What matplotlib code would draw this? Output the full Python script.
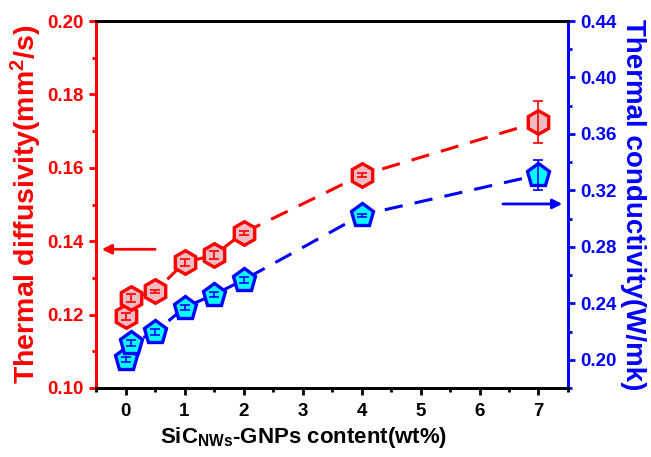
import matplotlib
matplotlib.use("Agg")
import matplotlib.pyplot as plt
import numpy as np

plt.rcParams["font.family"] = "Liberation Sans"
plt.rcParams["font.weight"] = "bold"
plt.rcParams["mathtext.fontset"] = "custom"
plt.rcParams["mathtext.rm"] = "Liberation Sans:bold"
plt.rcParams["mathtext.it"] = "Liberation Sans:bold"
plt.rcParams["mathtext.bf"] = "Liberation Sans:bold"

# filler content (wt%)
content = [0, 0.1, 0.5, 1, 1.5, 2, 4, 7]
# thermal diffusivity (mm2/s) and its error
diffusivity = [0.1195, 0.1245, 0.1263, 0.1342, 0.1362, 0.1423, 0.1580, 0.1725]
diffusivity_err = [0.001, 0.001, 0.0005, 0.001, 0.001, 0.0005, 0.0005, 0.0058]
# thermal conductivity (W/mk) and its error
conductivity = [0.2003, 0.2120, 0.2195, 0.2370, 0.2462, 0.2565, 0.3025, 0.3310]
conductivity_err = [0.002, 0.002, 0.002, 0.002, 0.002, 0.002, 0.001, 0.0105]

red = "#ff0000"
blue = "#0000ff"

fig = plt.figure(figsize=(6.51, 4.57), dpi=100)
ax = fig.add_axes([0.1475, 0.151, 0.725, 0.803])
ax2 = ax.twinx()

# diffusivity on the left axis
ax.plot(content, diffusivity, color=red, lw=2.2, dashes=(6, 4), zorder=1)
ax.plot(content, diffusivity, ls="none", marker="h", ms=17, mfc="#f0bcc4",
        mec=red, mew=2.4, zorder=2)
ax.errorbar(content, diffusivity, yerr=diffusivity_err, fmt="none", ecolor=red,
            elinewidth=1.2, capsize=3.5, capthick=1.2, zorder=3)

# conductivity on the right axis
ax2.plot(content, conductivity, color=blue, lw=2.2, dashes=(6, 4), zorder=1)
ax2.plot(content, conductivity, ls="none", marker="p", ms=17, mfc="#00ffff",
         mec=blue, mew=2.4, zorder=2)
ax2.errorbar(content, conductivity, yerr=conductivity_err, fmt="none", ecolor=blue,
             elinewidth=1.2, capsize=3.5, capthick=1.2, zorder=3)

ax.set_xlim(-0.5, 7.5)
ax.set_ylim(0.10, 0.20)
ax2.set_ylim(0.18, 0.44)
ax.set_xticks(range(8))
ax.set_xticks(np.arange(-0.5, 7.6, 0.5), minor=True)
ax.set_yticks(np.arange(0.10, 0.201, 0.02))
ax.set_yticks(np.arange(0.10, 0.201, 0.01), minor=True)
ax2.set_yticks(np.arange(0.20, 0.441, 0.04))
ax2.set_yticks(np.arange(0.18, 0.441, 0.02), minor=True)
ax.yaxis.set_major_formatter(plt.FormatStrFormatter("%.2f"))
ax2.yaxis.set_major_formatter(plt.FormatStrFormatter("%.2f"))

for a in (ax, ax2):
    for s in a.spines.values():
        s.set_linewidth(2)
    a.spines["top"].set_color("black")
    a.spines["bottom"].set_color("black")
    a.spines["left"].set_color(red)
    a.spines["right"].set_color(blue)

ax.tick_params(axis="x", which="major", direction="out", length=5, width=2,
               labelsize=13.5, pad=6, top=False)
ax.tick_params(axis="x", which="minor", direction="out", length=3, width=2, top=False)
ax.tick_params(axis="y", which="major", colors=red, direction="out", length=5,
               width=2, labelsize=13.5, pad=4)
ax.tick_params(axis="y", which="minor", colors=red, direction="out", length=3, width=2)
ax2.tick_params(axis="y", which="major", colors=blue, direction="out", length=5,
                width=2, labelsize=13.5, pad=4)
ax2.tick_params(axis="y", which="minor", colors=blue, direction="out", length=3, width=2)

ax.set_xlabel(r"SiC$_{\rm NWs}$-GNPs content(wt%)", fontsize=16, fontweight="bold")
ax.xaxis.set_label_coords(0.44, -0.1)
ax.xaxis.label.set_va("top")
ax.set_ylabel(r"Thermal diffusivity(mm$^{\rm 2}$/s)", fontsize=20.5, fontweight="bold",
              color=red, labelpad=2)
ax2.set_ylabel("Thermal conductivity(W/mk)", fontsize=20, fontweight="bold",
               color=blue, rotation=-90, labelpad=21)

# arrows pointing to the matching axis
ax.annotate("", xy=(-0.45, 0.1378), xytext=(0.55, 0.1378),
            arrowprops=dict(arrowstyle="-|>", color=red, lw=2, mutation_scale=14))
ax2.annotate("", xy=(7.45, 0.3104), xytext=(6.35, 0.3104),
             arrowprops=dict(arrowstyle="-|>", color=blue, lw=2, mutation_scale=14))

fig.savefig("out.png", dpi=100)
